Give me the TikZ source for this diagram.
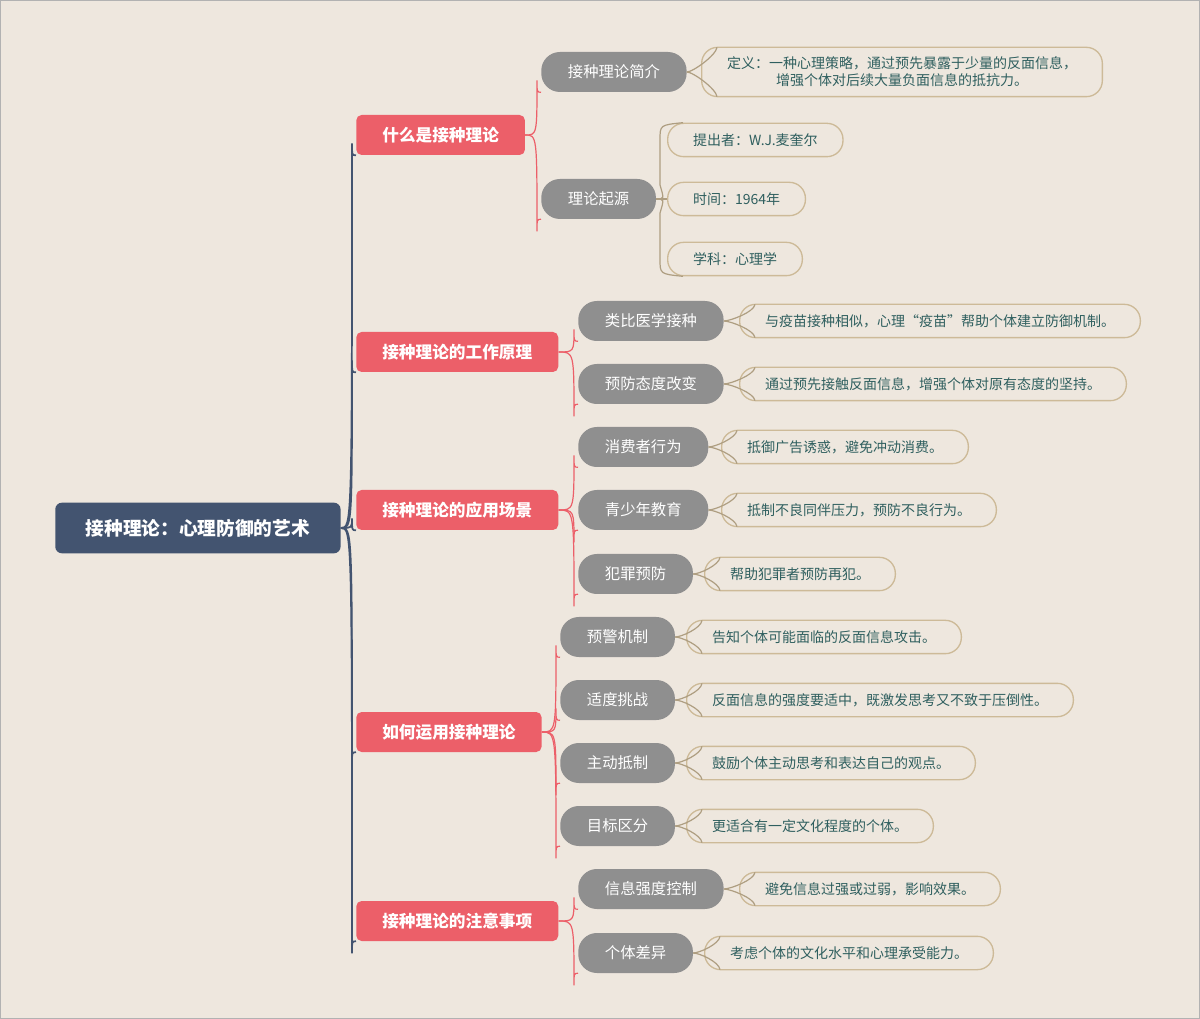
\documentclass[tikz,border=0pt]{standalone}
\usepackage{fontspec}
\usetikzlibrary{calc}
\setmainfont{Noto Sans CJK SC}
\begin{document}
\begin{tikzpicture}[x=0.75pt,y=-0.75pt,
 root/.style={fill=rootc,rounded corners=5pt,text=white,font=\fontsize{14}{16}\selectfont\bfseries,inner xsep=23pt,minimum height=38pt},
 lone/.style={fill=redc,rounded corners=4pt,text=white,font=\fontsize{12.5}{14}\selectfont\bfseries,inner xsep=19.5pt,minimum height=30pt},
 ltwo/.style={fill=grayc,rounded corners=14pt,text=white,font=\fontsize{11.5}{13}\selectfont,inner xsep=20pt,minimum height=30pt},
 leaf/.style={draw=tanc,line width=1pt,fill=bgc,rounded corners=12pt,text=textc,font=\fontsize{10.5}{13}\selectfont,inner xsep=19pt,minimum height=25pt,align=center},
 rc/.style={draw=rootc,line width=1.3pt},
 lc/.style={draw=redc,line width=0.9pt},
 tc/.style={draw=tanc!85!black,line width=0.9pt}]
\definecolor{bgc}{HTML}{EEE7DE}
\definecolor{rootc}{HTML}{435470}
\definecolor{redc}{HTML}{EC5F69}
\definecolor{grayc}{HTML}{8F8F8F}
\definecolor{tanc}{HTML}{CDBA98}
\definecolor{textc}{HTML}{2F5F5F}
\newcommand{\bconn}[4]{%
 \draw[#1] let \p1=(#2.east), \p2=(#3.south west) in
   (\p1) .. controls (\x2-3pt,\y1) .. (\x2-3pt,\y2+#4*9pt) .. controls (\x2-3pt,\y2) .. (\p2);}
\fill[bgc] (0,0) rectangle (1200,1019);
\draw[gray!60] (0.5,0.5) rectangle (1199.5,1018.5);
\node[root,anchor=west] (r) at (55,528) {接种理论：心理防御的艺术};
\node[lone,anchor=west] (a) at (356,135) {什么是接种理论};
\node[lone,anchor=west] (b) at (356,352) {接种理论的工作原理};
\node[lone,anchor=west] (c) at (356,510) {接种理论的应用场景};
\node[lone,anchor=west] (d) at (356,732) {如何运用接种理论};
\node[lone,anchor=west] (e) at (356,921) {接种理论的注意事项};
\foreach \nn/\ss in {a/1,b/1,c/1,d/-1,e/-1}{\bconn{rc}{r}{\nn}{\ss}}
% level 2
\node[ltwo,anchor=west] (a1) at (541,72) {接种理论简介};
\node[ltwo,anchor=west] (a2) at (541,199) {理论起源};
\node[ltwo,anchor=west] (b1) at (578,321) {类比医学接种};
\node[ltwo,anchor=west] (b2) at (578,384) {预防态度改变};
\node[ltwo,anchor=west] (c1) at (578,447) {消费者行为};
\node[ltwo,anchor=west] (c2) at (578,510) {青少年教育};
\node[ltwo,anchor=west] (c3) at (578,574) {犯罪预防};
\node[ltwo,anchor=west] (d1) at (560,637) {预警机制};
\node[ltwo,anchor=west] (d2) at (560,700) {适度挑战};
\node[ltwo,anchor=west] (d3) at (560,763) {主动抵制};
\node[ltwo,anchor=west] (d4) at (560,826) {目标区分};
\node[ltwo,anchor=west] (e1) at (578,889) {信息强度控制};
\node[ltwo,anchor=west] (e2) at (578,953) {个体差异};
\foreach \pp/\ch/\ss in {a/a1/1,a/a2/-1,b/b1/1,b/b2/-1,c/c1/1,c/c2/-1,c/c3/-1,d/d1/1,d/d2/1,d/d3/-1,d/d4/-1,e/e1/1,e/e2/-1}{\bconn{lc}{\pp}{\ch}{\ss}}
% leaves
\node[leaf,anchor=west,minimum height=37pt] (a1x) at (701,72) {定义：一种心理策略，通过预先暴露于少量的反面信息，\\增强个体对后续大量负面信息的抵抗力。};
\node[leaf,anchor=west] (a2x) at (667,140) {提出者：W.J.麦奎尔};
\node[leaf,anchor=west] (a2y) at (667,199) {时间：1964年};
\node[leaf,anchor=west] (a2z) at (667,259) {学科：心理学};
\node[leaf,anchor=west] (b1x) at (739,321) {与疫苗接种相似，心理“疫苗”帮助个体建立防御机制。};
\node[leaf,anchor=west] (b2x) at (739,384) {通过预先接触反面信息，增强个体对原有态度的坚持。};
\node[leaf,anchor=west] (c1x) at (721,447) {抵御广告诱惑，避免冲动消费。};
\node[leaf,anchor=west] (c2x) at (721,510) {抵制不良同伴压力，预防不良行为。};
\node[leaf,anchor=west] (c3x) at (704,574) {帮助犯罪者预防再犯。};
\node[leaf,anchor=west] (d1x) at (686,637) {告知个体可能面临的反面信息攻击。};
\node[leaf,anchor=west] (d2x) at (686,700) {反面信息的强度要适中，既激发思考又不致于压倒性。};
\node[leaf,anchor=west] (d3x) at (686,763) {鼓励个体主动思考和表达自己的观点。};
\node[leaf,anchor=west] (d4x) at (686,826) {更适合有一定文化程度的个体。};
\node[leaf,anchor=west] (e1x) at (739,889) {避免信息过强或过弱，影响效果。};
\node[leaf,anchor=west] (e2x) at (704,953) {考虑个体的文化水平和心理承受能力。};
\foreach \pp/\ch in {a1/a1x,b1/b1x,b2/b2x,c1/c1x,c2/c2x,c3/c3x,d1/d1x,d2/d2x,d3/d3x,d4/d4x,e1/e1x,e2/e2x}{
 \draw[tc] (\pp.east) .. controls +(6,0) and +(-1,8) .. ([xshift=12,yshift=-0.5]\ch.north west);
 \draw[tc] (\pp.east) .. controls +(6,0) and +(-1,-8) .. ([xshift=12,yshift=0.5]\ch.south west);}
\draw[tc] (a2.east) .. controls +(8,0) .. (660,185) -- (660,140) .. controls (660,125) .. ([xshift=12]a2x.north west);
\draw[tc] (a2.east) .. controls +(8,0) .. (660,213) -- (660,259) .. controls (660,274) .. ([xshift=12]a2z.south west);
\draw[tc] (a2.east) -- (a2y.west);
\end{tikzpicture}
\end{document}
